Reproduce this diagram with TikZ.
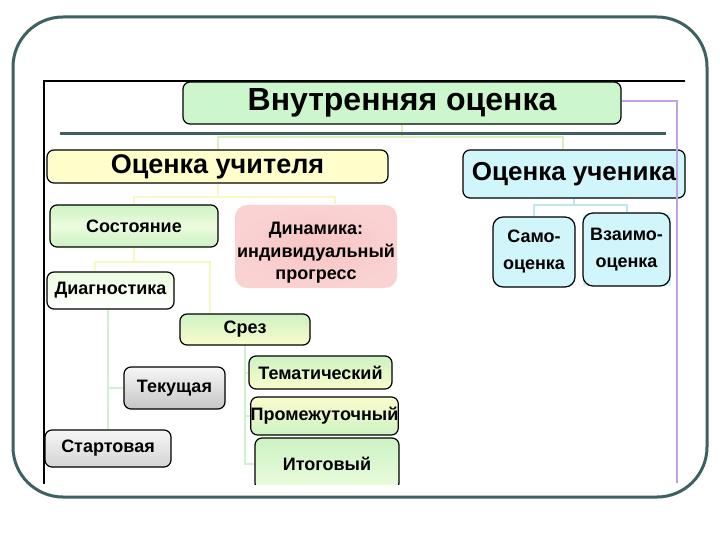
\documentclass[tikz,border=0pt]{standalone}
\usepackage{fontspec}
\setmainfont{Liberation Sans}
\usetikzlibrary{backgrounds}
\definecolor{frameteal}{RGB}{62,96,96}
\definecolor{topgreen}{RGB}{204,247,204}
\definecolor{teachyellow}{RGB}{255,255,204}
\definecolor{studcyan}{RGB}{208,245,250}
\definecolor{dynpink}{RGB}{250,210,210}
\definecolor{dynpinkB}{RGB}{248,196,196}
\definecolor{lgA}{RGB}{205,242,195}
\definecolor{lgB}{RGB}{235,252,222}
\definecolor{lyA}{RGB}{250,252,205}
\definecolor{grA}{RGB}{246,246,246}
\definecolor{grB}{RGB}{198,198,198}
\definecolor{grC}{RGB}{212,212,212}
\definecolor{conTopC}{RGB}{215,240,190}
\definecolor{conYelC}{RGB}{248,248,195}
\definecolor{conGrnC}{RGB}{208,240,208}
\definecolor{conCyaC}{RGB}{190,230,240}
\definecolor{purpleC}{RGB}{192,162,226}
\tikzset{
  box/.style={draw=black, line width=1.2pt, rounded corners=7pt, align=center,
    inner sep=0pt, font=\bfseries\fontsize{18}{24}\selectfont},
  bigbox/.style={box, font=\bfseries\fontsize{26}{32}\selectfont},
  conTop/.style={draw=conTopC, line width=2pt},
  conYel/.style={draw=conYelC, line width=2pt},
  conGrn/.style={draw=conGrnC, line width=2pt},
  conCya/.style={draw=conCyaC, line width=2pt},
  conPur/.style={draw=purpleC, line width=2pt},
}
\begin{document}
\begin{tikzpicture}[x=1pt,y=-1pt]
\useasboundingbox (0,0) rectangle (720,540);
\begin{pgfonlayer}{background}
  \fill[white] (0,0) rectangle (720,540);
\end{pgfonlayer}

\begin{scope}
\clip (30,70) rectangle (700,484);
% inner frame of the slide picture
\draw[black, line width=1.2pt] (44,484) -- (44,81) -- (685,81);

\node[box, fill=topgreen, minimum width=438pt, minimum height=42pt,
  font=\bfseries\fontsize{32}{36}\selectfont] (top) at (402,103) {Внутренняя оценка};
\node[bigbox, fill=teachyellow, minimum width=341pt, minimum height=33pt,
  font=\bfseries\fontsize{27}{32}\selectfont] (teacher) at (217.5,166.5) {Оценка учителя};
\node[bigbox, fill=studcyan, minimum width=222pt, minimum height=48pt] (student) at (574,174) {Оценка ученика};

\node[box, top color=lgA, bottom color=lgA, middle color=lgB, minimum width=168pt, minimum height=42pt] (sost) at (134,226) {Состояние};
\node[box, draw=none, inner color=dynpinkB, outer color=dynpink, rounded corners=12pt, minimum width=162pt, minimum height=83pt,
  font=\bfseries\fontsize{18}{22.5}\selectfont] (dyn) at (316,246.5)
  {\raisebox{-6pt}[\height][\depth]{\begin{tabular}{@{}c@{}}Динамика:\\индивидуальный\\прогресс\end{tabular}}};
\node[box, top color=lgB, bottom color=white, minimum width=127pt, minimum height=37pt] (diag) at (110.5,290.5) {Диагностика};
\node[box, top color=lgA, bottom color=lyA, minimum width=130pt, minimum height=31pt] (srez) at (245,329.5) {Срез};
\node[box, top color=grA, bottom color=grB, minimum width=101pt, minimum height=42pt] (tek) at (174.5,388) {Текущая};
\node[box, top color=grA, bottom color=grC, minimum width=126pt, minimum height=37pt] (start) at (108,448.5) {Стартовая};
\node[box, top color=lgA, bottom color=lyA, minimum width=143pt, minimum height=33pt] (tema) at (320.5,372.5) {Тематический};
\node[box, top color=lyA, bottom color=lgA, minimum width=145pt, minimum height=38pt] (prom) at (324.5,416) {Промежуточный};
\node[box, top color=lgA, bottom color=lgB, minimum width=144pt, minimum height=52pt] (itog) at (327,464) {Итоговый};

\fill[studcyan] (583,214) rectangle (671,286);
\node[box, fill=studcyan, rounded corners=10pt, minimum width=82pt, minimum height=70pt,
  font=\bfseries\fontsize{18}{27}\selectfont] (samo) at (534,252) {Само-\\оценка};
\node[box, fill=studcyan, rounded corners=10pt, minimum width=87pt, minimum height=73pt,
  font=\bfseries\fontsize{18}{27}\selectfont] (vzaimo) at (626.5,249.5) {Взаимо-\\оценка};
\end{scope}

\coordinate (j1) at (402,137);
\coordinate (j2) at (217.5,197);
\coordinate (j3) at (134,262);
\coordinate (j4) at (574,205);
\coordinate (pe) at (677,483);

\begin{pgfonlayer}{background}
  \draw[conTop] (top.south) -- (j1) -| (teacher.north);
  \draw[conTop] (j1) -| ([xshift=-11pt]student.north);
  \draw[conYel] (teacher.south) -- (j2) -| (sost.north);
  \draw[conYel] (j2) -| ([xshift=19pt]dyn.north);
  \draw[conYel] (sost.south) -- (j3) -| ([xshift=-15.5pt]diag.north);
  \draw[conYel] (j3) -| ([xshift=-35pt]srez.north);
  \draw[conGrn] ([xshift=-2.5pt]diag.south) -- (start.north);
  \draw[conGrn] (tek.west) -- (tek.west -| start.north);
  \draw[conGrn] (srez.south) |- (itog.west);
  \draw[conGrn] (tema.west -| srez.south) -- (tema.west);
  \draw[conGrn] (prom.west -| srez.south) -- (prom.west);
  \draw[conCya] (student.south) -- (j4) -| (samo.north);
  \draw[conCya] (j4) -| (vzaimo.north);
\end{pgfonlayer}

\draw[conPur] ([yshift=2pt]top.east) -| (pe);
\draw[frameteal, line width=3pt] (60,134) -- (666,134);
\draw[frameteal, line width=3pt, rounded corners=50pt] (13,17) rectangle (707,497);
\end{tikzpicture}
\end{document}
